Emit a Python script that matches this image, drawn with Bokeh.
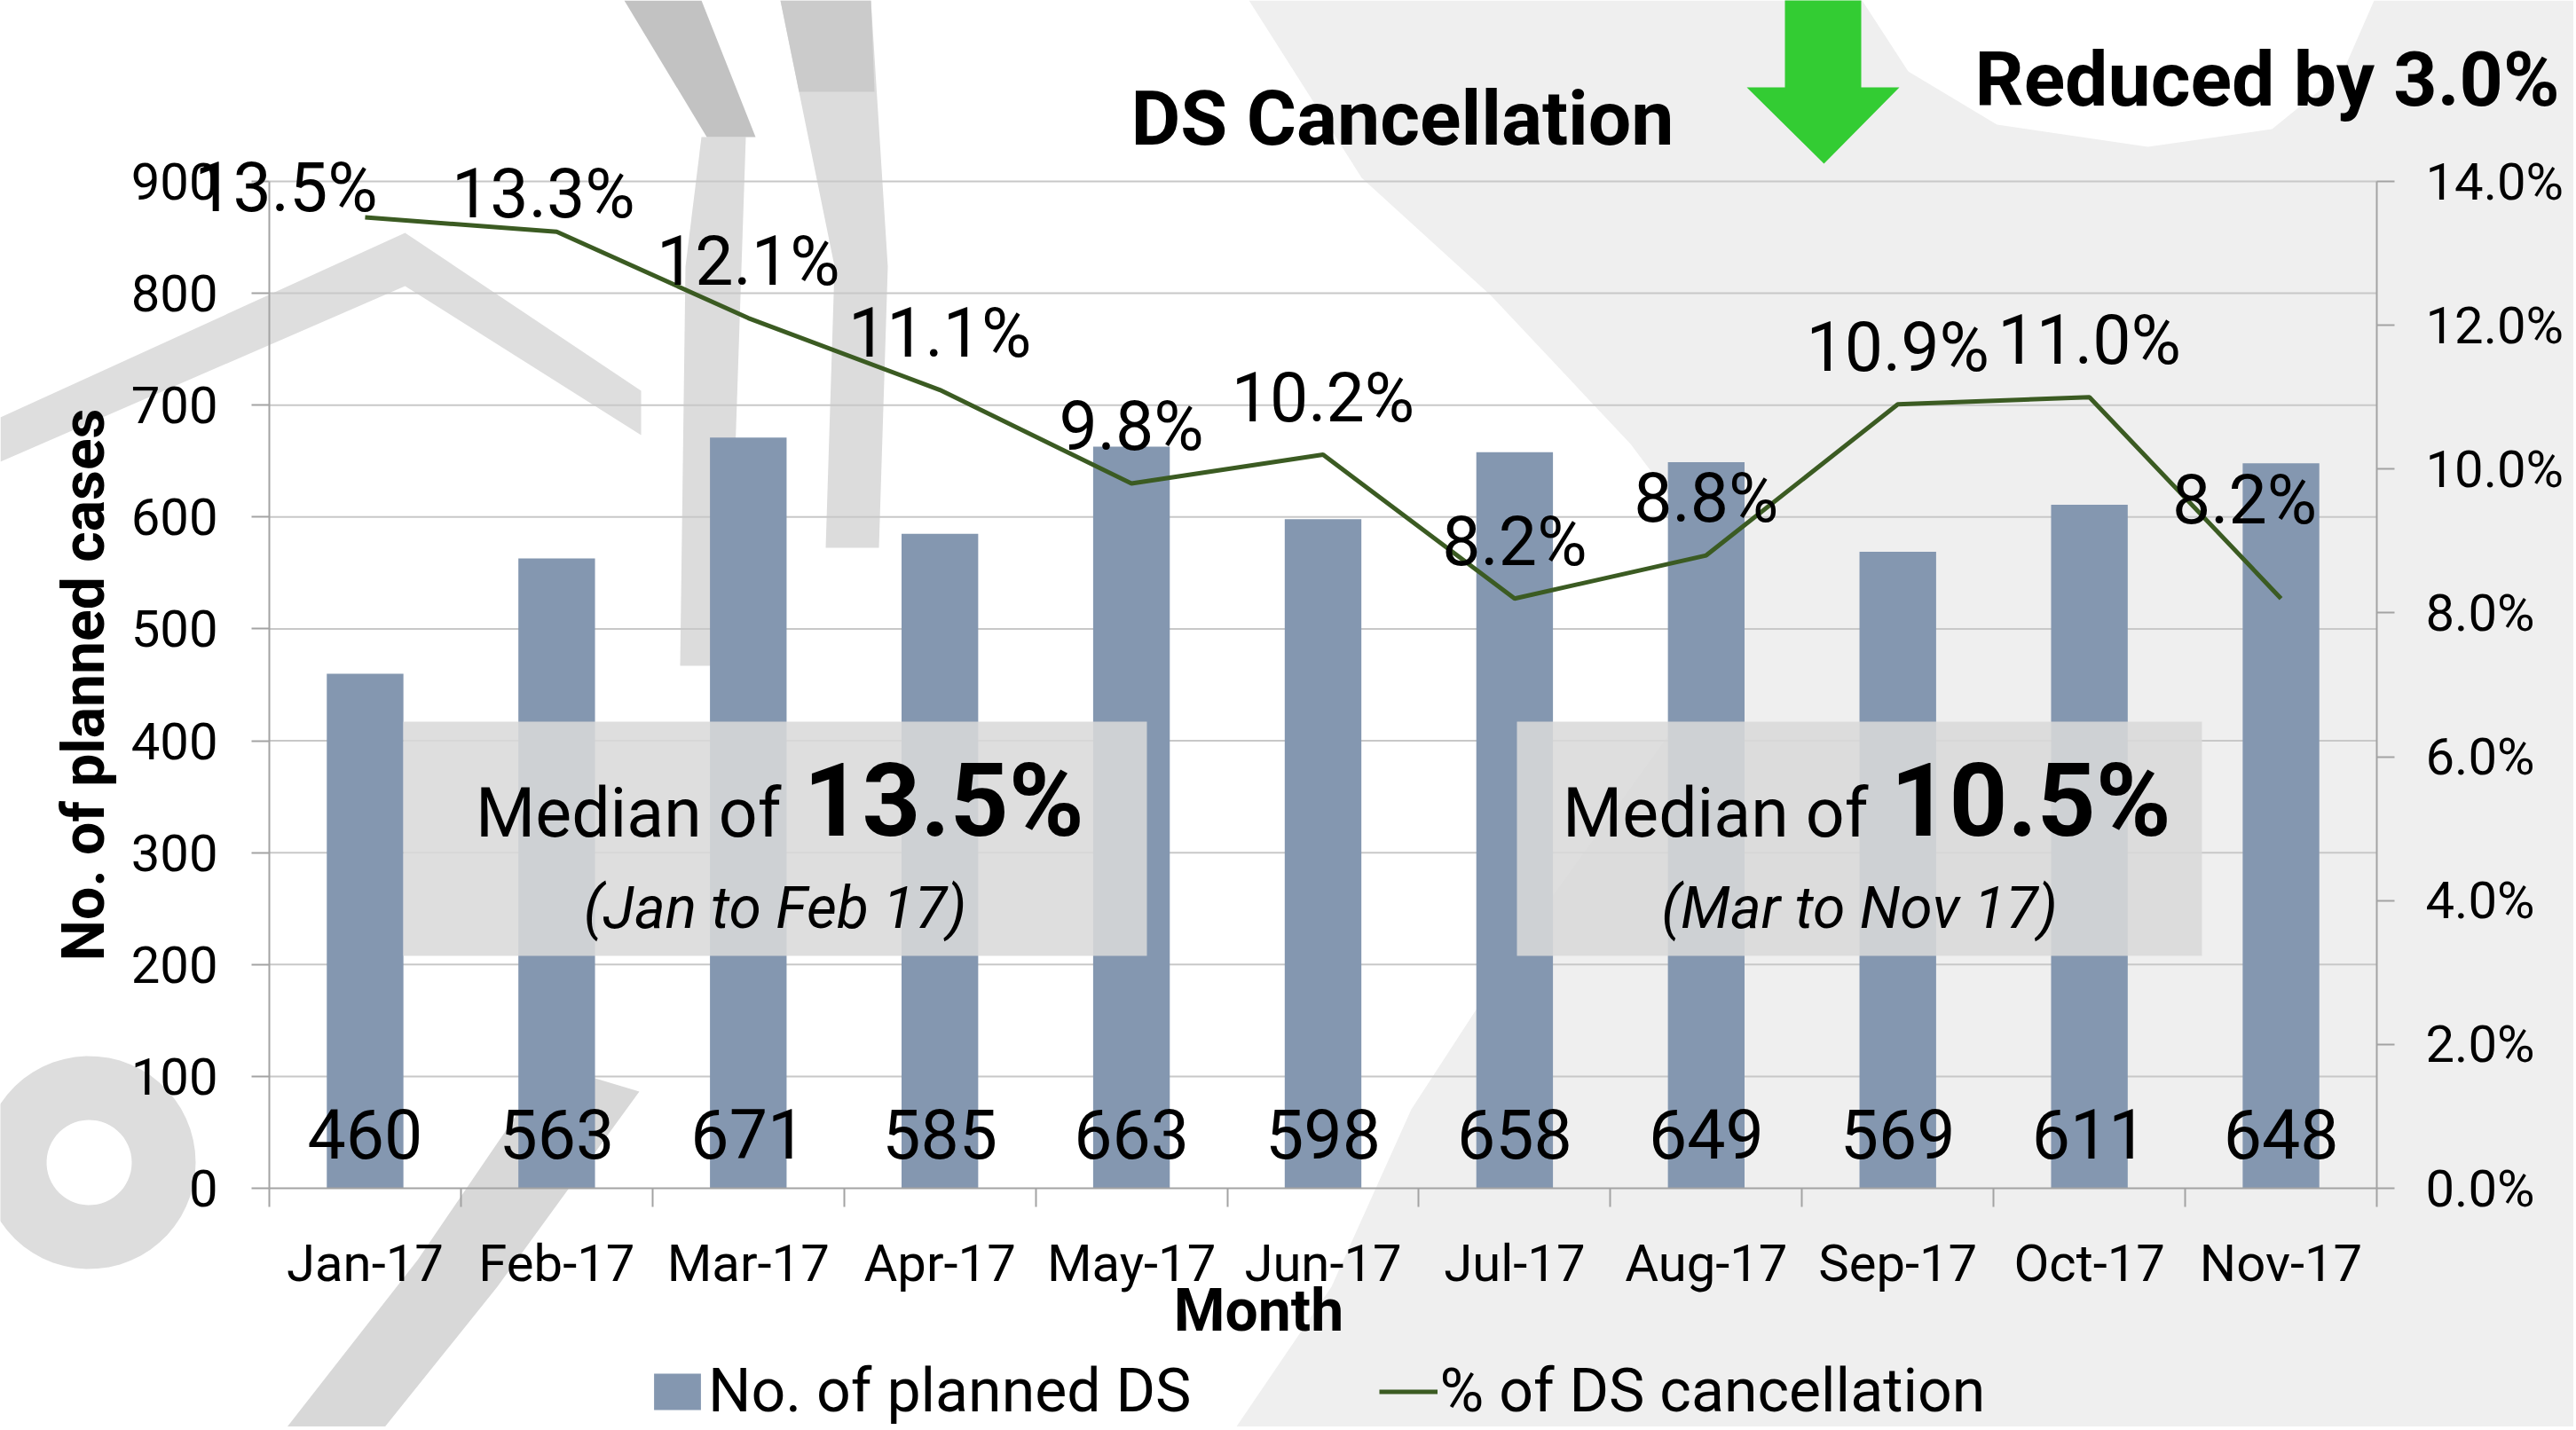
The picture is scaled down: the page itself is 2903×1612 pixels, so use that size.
import numpy as np
from bokeh.plotting import figure
from bokeh.models import (Range1d, LinearAxis, FixedTicker, PrintfTickFormatter,
                          ColumnDataSource, LabelSet, Label, BoxAnnotation,
                          PolyAnnotation, Legend, LegendItem)
from bokeh.core.properties import value
from bokeh.embed import file_html
from bokeh.resources import INLINE

# ---------------- data ----------------
months = ["Jan-17", "Feb-17", "Mar-17", "Apr-17", "May-17", "Jun-17",
          "Jul-17", "Aug-17", "Sep-17", "Oct-17", "Nov-17"]
planned_ds = [460, 563, 671, 585, 663, 598, 658, 649, 569, 611, 648]
cancel_pct = [13.5, 13.3, 12.1, 11.1, 9.8, 10.2, 8.2, 8.8, 10.9, 11.0, 8.2]
left_ticks = [0, 100, 200, 300, 400, 500, 600, 700, 800, 900]
right_ticks = [0, 2, 4, 6, 8, 10, 12, 14]
median_before = "13.5%"
median_after = "10.5%"
period_before = "(Jan to Feb 17)"
period_after = "(Mar to Nov 17)"
reduction_text = "Reduced by 3.0%"

# ---------------- style / geometry ----------------
FONT = "Roboto"
BAR_COLOR = "#8497B0"
LINE_COLOR = "#3B5B22"
AXIS_COLOR = "#A3A3A3"
GRID_COLOR = "#C8C8C8"

n = len(months)
W, H = 2900, 1608
# pixel box of the plotting area inside the canvas
AX_L, AX_R, AX_T, AX_B = 303, 2678, 204, 1339
YMAX, PMAX = left_ticks[-1], right_ticks[-1]
px_x = (AX_R - AX_L) / n
px_y = (AX_B - AX_T) / YMAX
px_p = (AX_B - AX_T) / PMAX


def X(px):  # canvas pixel -> x data
    return (px - AX_L) / px_x


def Y(py):  # canvas pixel -> y data
    return (AX_B - py) / px_y


xc = np.arange(n) + 0.5
pct_dx = [-89, -15, 0, 0, 0, 0, 0, 0, 0, 0, -41]
pct_dy = [7, 16, 38, 38, 38, 38, 38, 38, 38, 38, 85]

src = ColumnDataSource(dict(
    x=xc, planned=planned_ds, pct=cancel_pct,
    bar_lbl=[str(v) for v in planned_ds],
    pct_lbl=[f"{v:.1f}%" for v in cancel_pct],
    dx=pct_dx, dy=pct_dy,
))

p = figure(width=W, height=H,
           x_range=Range1d(X(0), X(W)), y_range=Range1d(Y(H), Y(0)),
           output_backend="svg", toolbar_location=None,
           min_border=0, min_border_left=0, min_border_right=0,
           min_border_top=0, min_border_bottom=0,
           background_fill_color="white", border_fill_color="white",
           outline_line_color=None)
p.extra_y_ranges = {"pct": Range1d((AX_B - H) / px_p, AX_B / px_p)}
p.xgrid.visible = False
p.ygrid.visible = False

# ---- faint background watermark (slide logo), drawn underneath ----
def shape(pts, color):
    p.patch([X(a) for a, b in pts], [Y(b) for a, b in pts], fill_color=color,
            line_color=None, level="underlay")

shape([(1407, 0), (2098, 0), (2150, 80), (2250, 140), (2420, 165), (2560, 145),
       (2640, 80), (2675, 0), (2903, 0), (2903, 1612), (1390, 1612), (1500, 1450),
       (1590, 1250), (1720, 1050), (1900, 800), (1950, 650), (1837, 500),
       (1680, 333), (1534, 200)], "#EFEFEF")
shape([(0, 470), (456, 262), (722, 440), (722, 490), (456, 322), (0, 520)], "#DEDEDE")
shape([(790, 154), (840, 154), (820, 750), (766, 750), (772, 300)], "#DCDCDC")
shape([(703, 0), (790, 0), (851, 154), (796, 154)], "#C2C2C2")
shape([(879, 0), (981, 0), (1000, 300), (990, 617), (930, 617), (940, 300)], "#DCDCDC")
shape([(879, 0), (981, 0), (985, 103), (900, 103)], "#CBCBCB")
shape([(620, 1200), (720, 1230), (560, 1450), (430, 1612), (320, 1612), (470, 1420)],
      "#D8D8D8")
ang = np.linspace(0, 2 * np.pi, 60)
ring_x = list(100 + 120 * np.cos(ang)) + list(100 + 48 * np.cos(ang[::-1]))
ring_y = list(1310 + 120 * np.sin(ang)) + list(1310 + 48 * np.sin(ang[::-1]))
shape(list(zip(ring_x, ring_y)), "#DDDDDD")

# horizontal gridlines across the plot area
p.segment(x0=0, x1=n, y0=left_ticks[1:], y1=left_ticks[1:],
          line_color=GRID_COLOR, line_width=2)

# left axis
ya = p.yaxis[0]
ya.fixed_location = 0
ya.bounds = (0, YMAX)
ya.ticker = FixedTicker(ticks=left_ticks)
ya.axis_line_color = AXIS_COLOR
ya.axis_line_width = 2
ya.major_tick_line_color = AXIS_COLOR
ya.major_tick_line_width = 2
ya.major_tick_out = 20
ya.major_tick_in = 0
ya.minor_tick_line_color = None
ya.major_label_text_font = FONT
ya.major_label_text_font_size = "58px"
ya.major_label_text_color = "black"
ya.major_label_standoff = 38
ya.axis_label = "No. of planned cases"
ya.axis_label_text_font = FONT
ya.axis_label_text_font_size = "66px"
ya.axis_label_text_font_style = "bold"
ya.axis_label_text_color = "black"
ya.axis_label_standoff = 12

# right axis
ra = LinearAxis(y_range_name="pct", ticker=FixedTicker(ticks=right_ticks),
                formatter=PrintfTickFormatter(format="%.1f%%"),
                fixed_location=n, bounds=(0, PMAX))
ra.axis_line_color = AXIS_COLOR
ra.axis_line_width = 2
ra.major_tick_line_color = AXIS_COLOR
ra.major_tick_line_width = 2
ra.major_tick_out = 20
ra.major_tick_in = 0
ra.minor_tick_line_color = None
ra.major_label_text_font = FONT
ra.major_label_text_font_size = "58px"
ra.major_label_text_color = "black"
ra.major_label_standoff = 35
p.add_layout(ra, "right")

# bottom axis: labels at centres, ticks at category boundaries
xa = p.xaxis[0]
xa.fixed_location = 0
xa.bounds = (0, n)
xa.ticker = FixedTicker(ticks=list(xc), minor_ticks=list(range(n + 1)))
xa.major_label_overrides = {float(c): m for c, m in zip(xc, months)}
xa.axis_line_color = AXIS_COLOR
xa.axis_line_width = 2
xa.major_tick_out = 0
xa.major_tick_in = 0
xa.major_tick_line_color = None
xa.minor_tick_out = 21
xa.minor_tick_in = 0
xa.minor_tick_line_color = AXIS_COLOR
xa.minor_tick_line_width = 2
xa.major_label_text_font = FONT
xa.major_label_text_font_size = "58px"
xa.major_label_text_color = "black"
xa.major_label_standoff = 29

# bars and line
bars = p.vbar(x="x", top="planned", width=0.4, source=src,
              fill_color=BAR_COLOR, line_color=None)
line = p.line(x="x", y="pct", source=src, y_range_name="pct",
              line_color=LINE_COLOR, line_width=5)

# data labels
p.add_layout(LabelSet(x="x", y=0, text="bar_lbl", source=src, y_offset=34,
                      text_align="center", text_baseline="alphabetic",
                      text_font=value(FONT), text_font_size="77px",
                      text_color="black"))
p.add_layout(LabelSet(x="x", y="pct", text="pct_lbl", source=src, y_range_name="pct",
                      x_offset="dx", y_offset="dy",
                      text_align="center", text_baseline="alphabetic",
                      text_font=value(FONT), text_font_size="77px",
                      text_color="black"))

# median boxes
for left, right in [(X(454), X(1292)), (X(1709), X(2481))]:
    p.add_layout(BoxAnnotation(left=left, right=right, bottom=Y(1077), top=Y(813),
                               fill_color="#D9D9D9", fill_alpha=0.87,
                               line_color=None))


def text(x, y, s, size, style="normal", align="center"):
    p.add_layout(Label(x=X(x), y=Y(y), text=s, text_align=align,
                       text_baseline="middle", text_font=FONT,
                       text_font_size=f"{size}px", text_font_style=style,
                       text_color="black"))


for split, centre, med, per in [(880, 873, median_before, period_before),
                                (2105, 2095, median_after, period_after)]:
    text(split, 916, "Median of", 77, align="right")
    text(split + 25, 902, med, 115, "bold", align="left")
    text(centre, 1023, per, 66, "italic")

# titles
text(1580, 133, "DS Cancellation", 86, "bold")
text(2884, 89, reduction_text, 86, "bold", align="right")
text(1418, 1477, "Month", 66, "bold")

# green down arrow
ax_px = [2011, 2011, 1968, 2055, 2140, 2097, 2097]
ay_px = [-20, 98, 98, 184, 98, 98, -20]
p.add_layout(PolyAnnotation(xs=[X(v) for v in ax_px], ys=[Y(v) for v in ay_px],
                            fill_color="#33CC33", fill_alpha=1, line_color=None))

# legend
legend = Legend(items=[LegendItem(label="No. of planned DS", renderers=[bars]),
                       LegendItem(label="% of DS cancellation", renderers=[line])],
                orientation="horizontal", location=(730, 0),
                glyph_width=66, glyph_height=51, label_standoff=2, spacing=212,
                padding=0, margin=0, border_line_alpha=0, background_fill_alpha=0,
                label_text_font=FONT, label_text_font_size="68px",
                label_text_color="black")
p.add_layout(legend)

open("out.html", "w").write(file_html(p, INLINE))
